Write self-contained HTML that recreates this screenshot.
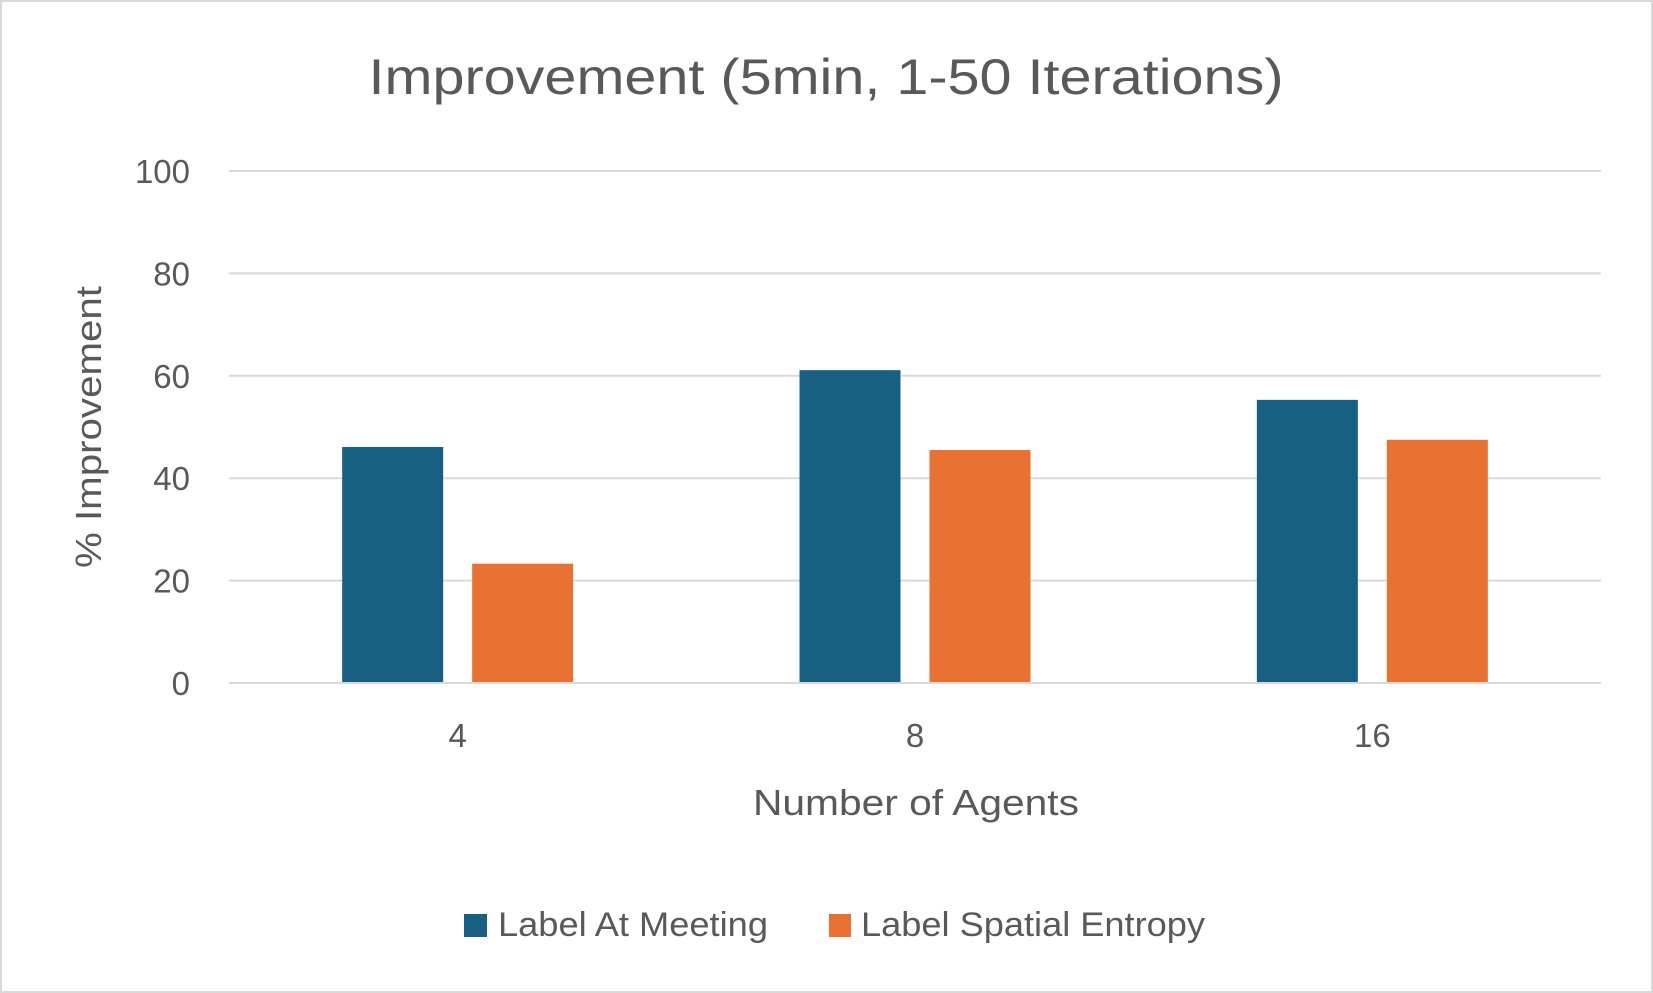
<!DOCTYPE html>
<html><head><meta charset="utf-8"><style>
html,body{margin:0;padding:0;background:#fff}
svg{display:block;font-family:"Liberation Sans",sans-serif}
</style></head><body>
<svg id="chart" width="1653" height="993" viewBox="0 0 1653 993">
<rect x="1" y="1" width="1651" height="991" fill="#fff" stroke="#d9d9d9" stroke-width="2"/>
<text x="826" y="94" text-anchor="middle" font-size="50" fill="#595959" textLength="915" lengthAdjust="spacingAndGlyphs">Improvement (5min, 1-50 Iterations)</text>
<g id="grid"></g>
<g id="bars"></g>
<g id="xlabels"></g>
<text x="916" y="815" text-anchor="middle" font-size="36" fill="#595959" textLength="326" lengthAdjust="spacingAndGlyphs">Number of Agents</text>
<text transform="translate(101,427) rotate(-90)" text-anchor="middle" font-size="36" fill="#595959" textLength="282" lengthAdjust="spacingAndGlyphs">% Improvement</text>
<g>
<rect x="464" y="914" width="23" height="23" fill="#176083"/>
<text x="498" y="936" font-size="34" fill="#595959" textLength="270" lengthAdjust="spacingAndGlyphs">Label At Meeting</text>
<rect x="829" y="914" width="22" height="23" fill="#e97132"/>
<text x="861" y="936" font-size="34" fill="#595959" textLength="344" lengthAdjust="spacingAndGlyphs">Label Spatial Entropy</text>
</g>
</svg>
<script>
const categories = ["4", "8", "16"];
const meetingValues = [46.1, 61.1, 55.3];
const entropyValues = [23.3, 45.5, 47.5];
const yTicks = [0, 20, 40, 60, 80, 100];

const NS = "http://www.w3.org/2000/svg";
const plotLeft = 229, plotRight = 1601, plotTop = 171, plotBottom = 683;
const yMax = 100;
function yScale(v){ return plotBottom - (v / yMax) * (plotBottom - plotTop); }
const band = (plotRight - plotLeft) / categories.length;
function xCenter(i){ return plotLeft + band * (i + 0.5); }
const barW = 101, barOffset = 65;

const grid = document.getElementById("grid");
yTicks.forEach(t => {
  const l = document.createElementNS(NS, "line");
  l.setAttribute("x1", plotLeft); l.setAttribute("x2", plotRight);
  l.setAttribute("y1", yScale(t)); l.setAttribute("y2", yScale(t));
  l.setAttribute("stroke", "#d9d9d9"); l.setAttribute("stroke-width", "2");
  
  
  grid.appendChild(l);
  const tx = document.createElementNS(NS, "text");
  tx.setAttribute("x", 190); tx.setAttribute("y", yScale(t) + 12);
  tx.setAttribute("text-anchor", "end"); tx.setAttribute("font-size", "33");
  tx.setAttribute("fill", "#595959");
  tx.textContent = t;
  
  
  grid.appendChild(tx);
});

const bars = document.getElementById("bars");
function addBar(cx, v, color, name){
  const r = document.createElementNS(NS, "rect");
  r.setAttribute("x", cx - barW / 2); r.setAttribute("y", yScale(v));
  r.setAttribute("width", barW); r.setAttribute("height", yScale(0) - yScale(v) - 1);
  r.setAttribute("fill", color);
  
  
  bars.appendChild(r);
}
const xl = document.getElementById("xlabels");
categories.forEach((c, i) => {
  addBar(xCenter(i) - barOffset, meetingValues[i], "#176083", "bar-meeting-" + c);
  addBar(xCenter(i) + barOffset, entropyValues[i], "#e97132", "bar-entropy-" + c);
  const tx = document.createElementNS(NS, "text");
  tx.setAttribute("x", xCenter(i)); tx.setAttribute("y", 747);
  tx.setAttribute("text-anchor", "middle"); tx.setAttribute("font-size", "33");
  tx.setAttribute("fill", "#595959");
  tx.textContent = c;
  
  
  xl.appendChild(tx);
});
</script>
</body></html>
